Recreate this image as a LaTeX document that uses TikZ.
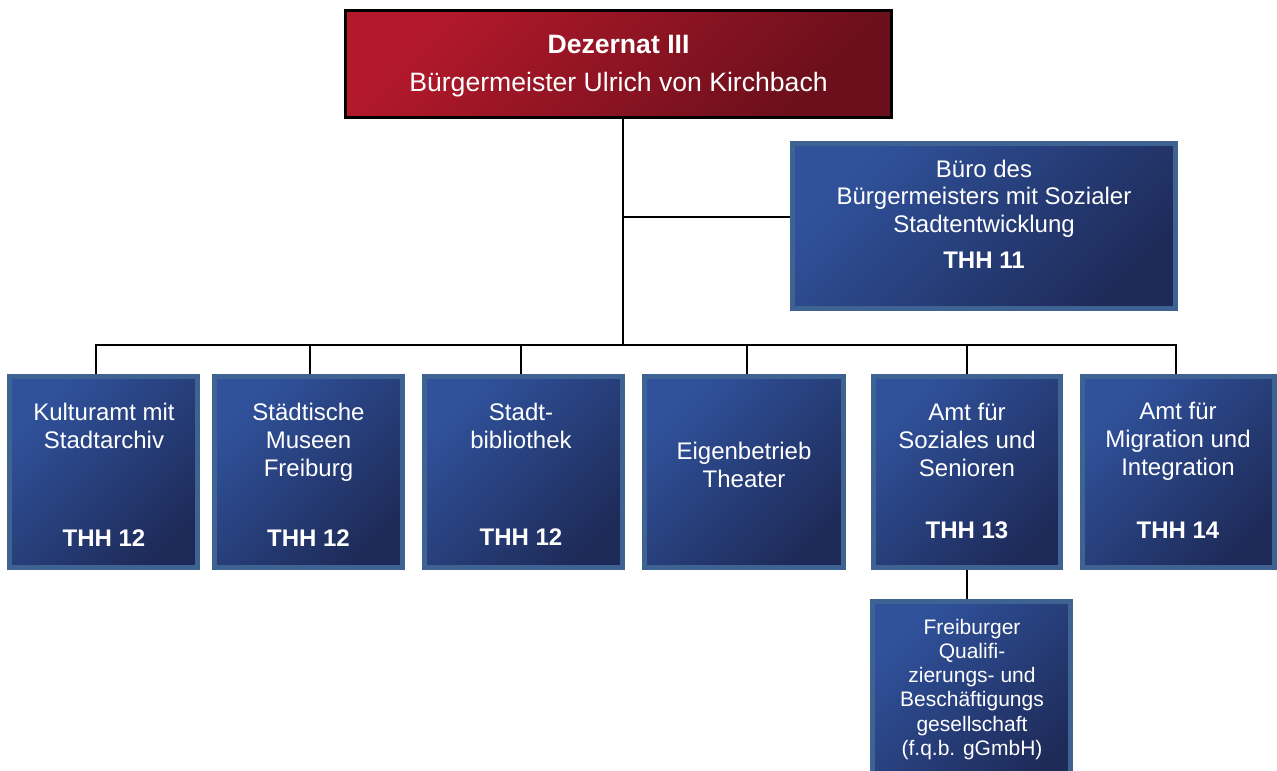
\documentclass[tikz,border=0pt]{standalone}
\usepackage{fontspec}
\setmainfont{Liberation Sans}
\definecolor{bltop}{HTML}{30529C}
\definecolor{blbot}{HTML}{1E2B59}
\definecolor{blborder}{HTML}{3E6291}
\definecolor{rdtop}{HTML}{B3192B}
\definecolor{rdbot}{HTML}{6A0F1B}
\tikzset{
  bluebox/.style={rectangle, draw=blborder, line width=5pt, top color=bltop, bottom color=blbot, shading angle=45, inner sep=0pt},
  redbox/.style={rectangle, draw=black, line width=3pt, top color=rdtop, bottom color=rdbot, shading angle=45, inner sep=0pt},
  txt/.style={text=white, align=center, inner sep=0pt, anchor=base, font=\fontsize{24}{28}\selectfont},
  thh/.style={text=white, inner sep=0pt, anchor=base, font=\fontsize{24}{28}\selectfont\bfseries},
  conn/.style={draw=black, line width=1.8pt}
}
\begin{document}
\begin{tikzpicture}[x=1pt,y=-1pt]
\useasboundingbox (0,0) rectangle (1277,771);
% boxes
\node[redbox, minimum width=546pt, minimum height=107pt] (dez) at (618.5,64) {};
\node[bluebox, minimum width=383pt, minimum height=165pt] (buero) at (984,226) {};
\node[bluebox, minimum width=188pt, minimum height=191pt] (kult) at (103.5,472) {};
\node[bluebox, minimum width=188pt, minimum height=191pt] (stmu) at (308.5,472) {};
\node[bluebox, minimum width=198pt, minimum height=191pt] (stbi) at (523.5,472) {};
\node[bluebox, minimum width=199pt, minimum height=191pt] (eig) at (744,472) {};
\node[bluebox, minimum width=187pt, minimum height=191pt] (soz) at (967,472) {};
\node[bluebox, minimum width=192pt, minimum height=191pt] (mig) at (1178.5,472) {};
\node[bluebox, minimum width=198pt, minimum height=191pt] (freib) at (971.5,697) {};
% connectors
\coordinate (bus) at (623,345);
\draw[conn] (dez.south -| bus) -- (bus);
\draw[conn] ([yshift=9pt]buero.west -| bus) -- ([yshift=9pt]buero.west);
\draw[conn] ([xshift=-7.5pt]kult.north) |- (bus);
\draw[conn] ([xshift=1.5pt]stmu.north) |- (bus);
\draw[conn] ([xshift=-2.5pt]stbi.north) |- (bus);
\draw[conn] ([xshift=3pt]eig.north) |- (bus);
\draw[conn] (soz.north) |- (bus);
\draw[conn] ([xshift=-2.5pt]mig.north) |- (bus);
\draw[conn] (soz.south) -- (soz.south |- freib.north);
% texts (anchor base = baseline of the last line)
\node[text=white, inner sep=0pt, anchor=base, font=\fontsize{26.6}{30}\selectfont\bfseries] (dezt1) at (618.5,53) {Dezernat III};
\node[text=white, inner sep=0pt, anchor=base, font=\fontsize{26.6}{30}\selectfont] (dezt2) at (618.5,91) {Bürgermeister Ulrich von Kirchbach};
\node[txt, font=\fontsize{24}{27.5}\selectfont] (buerot) at (984,232) {Büro des\\Bürgermeisters mit Sozialer\\Stadtentwicklung};
\node[thh] (buerothh) at (984,268) {THH 11};
\node[txt] (kultt) at (104,448) {Kulturamt mit\\Stadtarchiv};
\node[thh] (kultthh) at (104,546) {THH 12};
\node[txt] (stmut) at (308.5,476) {Städtische\\Museen\\Freiburg};
\node[thh] (stmuthh) at (308.5,546) {THH 12};
\node[txt] (stbit) at (521,448) {Stadt-\\bibliothek};
\node[thh] (stbithh) at (521,545) {THH 12};
\node[txt, font=\fontsize{24}{27.5}\selectfont] (eigt) at (744,487) {Eigenbetrieb\\Theater};
\node[txt] (sozt) at (967,476) {Amt für\\Soziales und\\Senioren};
\node[thh] (sozthh) at (967,538) {THH 13};
\node[txt] (migt) at (1178,475) {Amt für\\Migration und\\Integration};
\node[thh] (migthh) at (1178,538) {THH 14};
\node[txt, font=\fontsize{21}{24.3}\selectfont] (freibt) at (972,755.5) {Freiburger\\Qualifi-\\zierungs- und\\Beschäftigungs\\gesellschaft\\(f.q.b. gGmbH)};
\end{tikzpicture}
\end{document}
